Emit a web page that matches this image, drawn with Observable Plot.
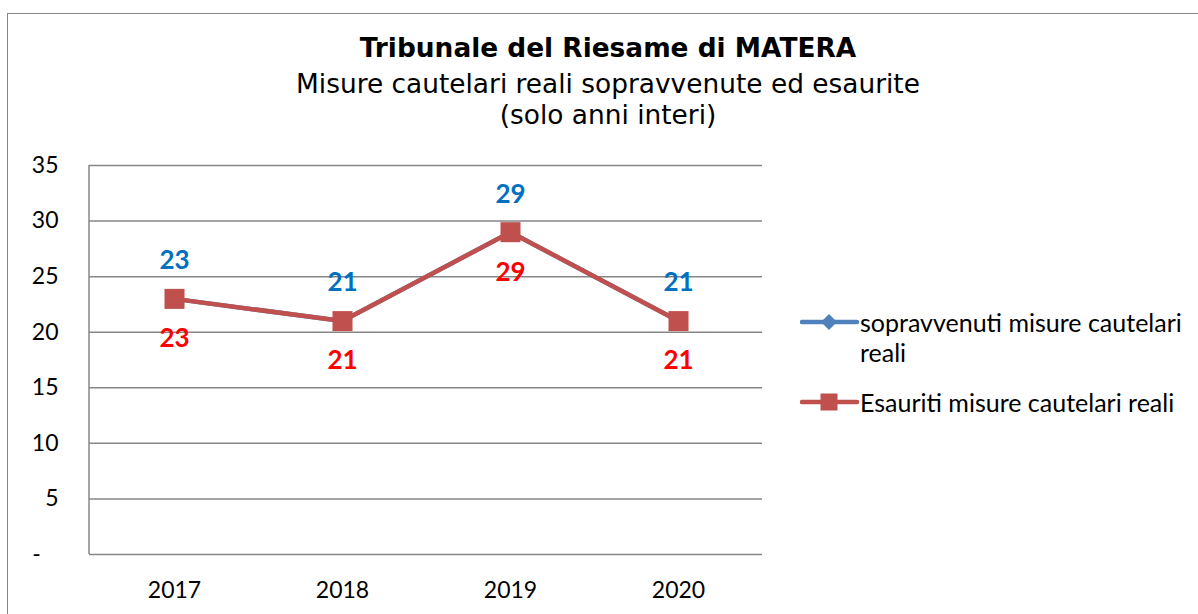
<!DOCTYPE html>
<html>
<head>
<meta charset="utf-8">
<script src="https://cdn.jsdelivr.net/npm/d3@7"></script>
<script src="https://cdn.jsdelivr.net/npm/@observablehq/plot@0.6"></script>
<style>
  html, body { margin: 0; padding: 0; background: #fff; }
  #wrap { position: relative; width: 1198px; height: 614px; overflow: hidden; background: #fff; }
  #border { position: absolute; left: 7px; top: 13px; width: 1400px; height: 800px;
            border-left: 1.5px solid #868686; border-top: 1.5px solid #868686; }
  #title { position: absolute; left: 0; width: 1216px; top: 32px; text-align: center;
           font-family: "DejaVu Sans", Verdana, sans-serif; font-weight: bold; font-size: 26.4px;
           line-height: 32px; color: #000; }
  #subtitle { position: absolute; left: 0; width: 1216px; top: 68px; text-align: center;
              font-family: "DejaVu Sans", Verdana, sans-serif; font-size: 26.4px; line-height: 31px; color: #000; }
  #chart { position: absolute; left: 0; top: 140px; }
  #legend { position: absolute; left: 800px; top: 307px; font-family: Lato, "Open Sans", sans-serif;
            font-size: 25px; color: #000; }
  .item { position: absolute; left: 0; white-space: nowrap; }
  .item svg { position: absolute; left: 0; top: 0; }
  .item .lbl { position: absolute; left: 60px; top: 0; line-height: 30px; }
</style>
</head>
<body>
<div id="wrap">
  <div id="border"></div>
  <div id="title"></div>
  <div id="subtitle"></div>
  <div id="chart"></div>
  <div id="legend"></div>
</div>
<script>
const titleText = "Tribunale del Riesame di MATERA";
const subtitleLines = ["Misure cautelari reali sopravvenute ed esaurite", "(solo anni interi)"];
const years = ["2017", "2018", "2019", "2020"];
const sopravvenuti = [23, 21, 29, 21];
const esauriti = [23, 21, 29, 21];
const yTicks = [0, 5, 10, 15, 20, 25, 30, 35];
const seriesNames = ["sopravvenuti misure cautelari reali", "Esauriti misure cautelari reali"];
const blue = "#4F81BD", red = "#C0504D";
const blueLabel = "#0070C0", redLabel = "#FF0000";
const gridColor = "#868686";

document.getElementById("title").textContent = titleText;
document.getElementById("subtitle").innerHTML = subtitleLines.join("<br>");

const sopData = years.map((y, i) => ({year: y, value: sopravvenuti[i]}));
const esaData = years.map((y, i) => ({year: y, value: esauriti[i]}));

const leftAxisLine = (index, scales, values, dims) => {
  return d3.create("svg:line")
    .attr("x1", dims.marginLeft).attr("x2", dims.marginLeft)
    .attr("y1", scales.y(yTicks[0])).attr("y2", scales.y(yTicks[yTicks.length - 1]))
    .attr("stroke", gridColor).attr("stroke-width", 1.5).node();
};

const chart = Plot.plot({
  width: 1198,
  height: 474,
  marginLeft: 89,
  marginRight: 436,
  marginTop: 25,
  marginBottom: 60,
  style: {fontFamily: "Lato, 'Open Sans', sans-serif", fontSize: "23px", color: "#000", background: "transparent"},
  x: {type: "point", domain: years, padding: 0.5, label: null},
  y: {domain: [0, 35], label: null},
  marks: [
    Plot.ruleY(yTicks, {stroke: gridColor, strokeWidth: 1.5, strokeOpacity: 1}),
    leftAxisLine,
    Plot.axisY({ticks: yTicks, tickSize: 0, tickPadding: 31, label: null, fontSize: 23,
                tickFormat: d => d === 0 ? "-\u00a0\u00a0\u00a0" : String(d)}),
    Plot.axisX({tickSize: 0, tickPadding: 27, label: null, fontSize: 23}),
    Plot.line(sopData, {x: "year", y: "value", stroke: blue, strokeWidth: 4.5}),
    Plot.dot(sopData, {x: "year", y: "value", symbol: "diamond", fill: blue, r: 5}),
    Plot.line(esaData, {x: "year", y: "value", stroke: red, strokeWidth: 4.5}),
    Plot.dot(esaData, {x: "year", y: "value", symbol: "square", fill: red, r: 11.3}),
    Plot.text(sopData, {x: "year", y: "value", text: d => String(d.value), dy: -38,
                        fill: blueLabel, fontWeight: "bold", fontSize: 26}),
    Plot.text(esaData, {x: "year", y: "value", text: d => String(d.value), dy: 40,
                        fill: redLabel, fontWeight: "bold", fontSize: 26})
  ]
});
document.getElementById("chart").appendChild(chart);

// Legend
const legend = document.getElementById("legend");
const items = [
  {name: seriesNames[0], color: blue, symbol: "diamond", top: 0, lines: ["sopravvenuti misure cautelari", "reali"]},
  {name: seriesNames[1], color: red, symbol: "square", top: 80, lines: ["Esauriti misure cautelari reali"]}
];
items.forEach(it => {
  const div = document.createElement("div");
  div.className = "item";
  div.style.top = it.top + "px";
  const svg = d3.create("svg").attr("width", 60).attr("height", 30);
  svg.append("line").attr("x1", 2).attr("x2", 57).attr("y1", 15).attr("y2", 15)
    .attr("stroke", it.color).attr("stroke-width", 4.5).attr("stroke-linecap", "round");
  if (it.symbol === "diamond") {
    svg.append("path").attr("d", "M29,7 L37,15 L29,23 L21,15 Z").attr("fill", it.color);
  } else {
    svg.append("rect").attr("x", 20.5).attr("y", 6.5).attr("width", 17).attr("height", 17).attr("fill", it.color);
  }
  div.appendChild(svg.node());
  const lbl = document.createElement("div");
  lbl.className = "lbl";
  lbl.innerHTML = it.lines.join("<br>");
  div.appendChild(lbl);
  legend.appendChild(div);
});
</script>
</body>
</html>
